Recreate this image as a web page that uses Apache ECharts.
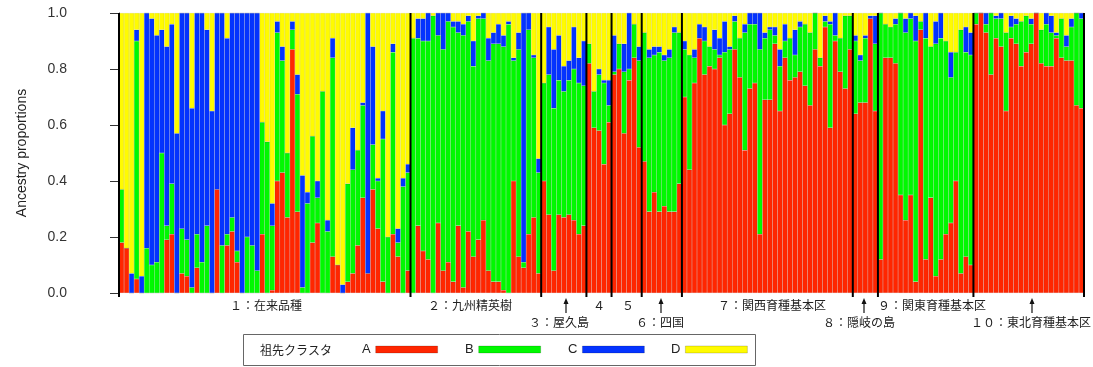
<!DOCTYPE html>
<html>
<head>
<meta charset="utf-8">
<title>Ancestry proportions</title>
<script src="https://cdn.jsdelivr.net/npm/echarts@6/dist/echarts.min.js"></script>
<style>
  html, body { margin: 0; padding: 0; background: #fff; }
  #chart { width: 1093px; height: 367px; }
</style>
</head>
<body>
<div id="chart"></div>
<script>
// 地域グループ（個体数）
const groupSizes = [58, 26, 9, 5, 6, 8, 34, 5, 19, 22]
const groupLabels = ['１：在来品種', '２：九州精英樹', '３：屋久島', '４', '５', '６：四国',
  '７：関西育種基本区', '８：隠岐の島', '９：関東育種基本区', '１０：東北育種基本区']
const clusterNames = ['A', 'B', 'C', 'D']
const clusterColors = ['#ff2600', '#00f900', '#0433ff', '#fffb00']

// 祖先クラスタ A（赤）
const clusterA = [
  .18, .16, 0, .05, 0, 0, 0, 0, 0, .19, .21, 0, .07, .06, 0, .09, 0, 0, 0, .37,
  0, .17, .22, .11, 0, 0, 0, 0, .21, 0, .01, .40, .43, .27, .87, .29, 0, 0, .18, .25,
  0, 0, .13, .10, 0, .04, .07, .17, .34, .07, .37, .23, .04, 0, .21, .13, 0, .08,
  0, .24, .15, .12, 0, .25, .08, .11, .04, .24, .02, .22, .13, .19, .26, .08, .04, .04, .01, 0, .40, .13, .09, .21, .27, .07,
  .40, .28, .08, .28, .27, .28, .26, .21, .24,
  .82, .59, .58, .46, .61,
  .78, .80, .57, .76, .84, .52,
  .47, .29, .36, .29, .31, .29, .29, .39,
  .70, .44, .75, .91, .78, .81, .80, .84, .60, .64, .87, .77, .51, .73, .75, .21, .69, .69, .89, .65,
  .84, .76, .77, .79, .74, .67, .87, .81, .95, .59, .90, .79, .73, .87,
  .64, .68, .68, .98, .65,
  .12, .84, .84, .82, .35, .26, .35, .04, .94, .12, .34, .06, .12, .21, .25, .40, .07, .13, .10,
  .96, 1, .93, .78, .91, .88, .65, .91, .89, .81, .86, .89, 1, .82, .81, .81, .91, .84, .83, .83, .67, .66
]
// 祖先クラスタ B（緑）
const clusterB = [
  .19, 0, 0, .85, 0, .16, .10, .11, .50, .05, .18, 0, .16, .13, .02, .12, .11, .24, 0, 0,
  .17, .04, .05, .04, 0, .20, .17, .08, .40, .54, .23, .53, .40, .23, .07, .42, .02, .32, .38, .09,
  .72, .22, .71, 0, 0, .35, .37, .34, .33, 0, .16, .17, .51, .20, .65, .05, .38, .35,
  .91, .67, .75, .78, .99, .67, .79, .86, .91, .69, .90, .75, .68, .79, .72, .75, .85, .85, .87, .96, .43, .74, .02, .73, .57, .36,
  .35, .50, .58, .48, .45, .48, .54, .54, .50,
  .07, .13, .20, .29, .06,
  .01, .09, .22, .04, .12, .31,
  .46, .55, .49, .57, .52, .55, .64, .54,
  .17, .41, .09, 0, .12, .07, .07, .01, .26, .23, .10, .14, .42, .23, .21, .66, .22, .25, .03, .16,
  .06, .15, .08, .16, .22, .26, .13, .03, .02, .37, .02, .12, .26, .12,
  .26, .15, .23, 0, .24,
  .88, .12, .11, .14, .65, .67, .63, .86, .03, .79, .54, .83, .79, .69, .52, .46, .87, .73, .75,
  .04, 0, .03, .22, .07, .10, .28, .04, .07, .16, .13, .07, 0, .12, .15, .12, .01, .14, .05, .12, .33, .32
]
// 祖先クラスタ C（青）
const clusterC = [
  0, 0, .07, .04, .06, .84, .88, .81, .44, .64, .57, .57, .77, .81, .64, .79, .89, .70, .65, .63,
  .83, .70, .73, .85, 1, .80, .83, .92, 0, 0, .08, .04, .05, 0, .03, .07, .40, .04, 0, .06,
  0, .04, .07, 0, .03, 0, .15, 0, .01, .93, .35, .01, .10, 0, .03, .05, .03, .03,
  0, .07, .08, .10, 0, .08, .13, .03, .02, .04, .04, .02, .09, .01, .02, .08, .04, .07, .04, .01, .01, .06, .89, .06, .01, .05,
  0, .17, .21, .16, .09, .07, .15, .09, .16,
  0, 0, .02, .01, .09,
  .13, 0, .10, .20, 0, .05,
  0, .03, .03, .02, .02, .03, .02, 0,
  .03, 0, .03, .05, .05, 0, .07, .06, .11, .01, .02, 0, .03, .04, .04, .13, .02, .01, .03, .06,
  .06, 0, .09, .02, 0, 0, 0, 0, .02, .01, .08, 0, 0, 0,
  .02, .02, .01, .01, .10,
  0, 0, 0, .02, 0, .05, .02, .09, 0, .09, 0, .08, .09, 0, .09, 0, 0, .09, .08,
  0, 0, .04, 0, .01, .02, 0, .04, .02, 0, 0, .02, 0, 0, .04, .06, .01, 0, .04, .03, 0, .02
]
// 祖先クラスタ D（黄）
const clusterD = [
  .63, .84, .93, .06, .94, 0, .02, .08, .06, .12, .04, .43, 0, 0, .34, 0, 0, .06, .35, 0,
  0, .09, 0, 0, 0, 0, 0, 0, .39, .46, .68, .03, .12, .50, .03, .22, .58, .64, .44, .60,
  .28, .74, .09, .90, .97, .61, .41, .49, .32, 0, .12, .59, .35, .80, .11, .77, .59, .54,
  .09, .02, .02, 0, .01, 0, 0, 0, .03, .03, .04, .01, .10, .01, 0, .09, .07, .04, .08, .03, .16, .07, 0, 0, .15, .52,
  .25, .05, .13, .08, .19, .17, .05, .16, .10,
  .11, .28, .20, .24, .24,
  .08, .11, .11, 0, .04, .12,
  .07, .13, .12, .12, .15, .13, .05, .07,
  .10, .15, .13, .04, .05, .12, .06, .09, .03, .12, .01, .09, .04, 0, 0, 0, .07, .05, .05, .13,
  .04, .09, .06, .03, .04, .07, 0, .16, .01, .03, 0, .09, .01, .01,
  .08, .15, .08, .01, .01,
  0, .04, .05, .02, 0, .02, 0, .01, .03, 0, .12, .03, 0, .10, .14, .14, .06, .05, .07,
  0, 0, 0, 0, .01, 0, .07, .01, .02, .03, .01, .02, 0, .06, 0, .01, .07, .02, .08, .02, 0, 0
]

const clusters = [clusterA, clusterB, clusterC, clusterD]
const cjk = '"Noto Sans CJK JP", sans-serif'
const latin = '"Liberation Sans", Arial, sans-serif'

// 個体ID と グループ境界
const individuals = []
const boundaries = [0]
groupSizes.forEach((n, g) => {
  for (let k = 0; k < n; k++) individuals.push((g + 1) + '-' + (k + 1))
  boundaries.push(boundaries[boundaries.length - 1] + n)
})

// ラベル配置（上段 / 下段 + 矢印）
const labelLayout = [
  { x: 266, y: 305 }, { x: 470, y: 305 }, { x: 559, y: 322, arrow: 566 },
  { x: 599, y: 305 }, { x: 628, y: 305 }, { x: 660, y: 322, arrow: 661 },
  { x: 772, y: 305 }, { x: 859, y: 322, arrow: 864 }, { x: 932, y: 305 },
  { x: 1031, y: 322, arrow: 1032 }
]

const graphic = []
labelLayout.forEach((p, i) => {
  graphic.push({
    type: 'text', x: p.x, y: p.y, silent: true,
    style: { text: groupLabels[i], fontSize: 12, fontFamily: cjk, fill: '#222', align: 'center', verticalAlign: 'middle' }
  })
  if (p.arrow) {
    graphic.push({
      type: 'line', silent: true,
      shape: { x1: p.arrow, y1: 313, x2: p.arrow, y2: 302 },
      style: { stroke: '#111', lineWidth: 1.2 }
    })
    graphic.push({
      type: 'polygon', silent: true,
      shape: { points: [[p.arrow - 2.5, 304], [p.arrow + 2.5, 304], [p.arrow, 298]] },
      style: { fill: '#111' }
    })
  }
})
// 凡例の枠
graphic.push({
  type: 'rect', silent: true,
  shape: { x: 243.5, y: 334.5, width: 512, height: 31 },
  style: { fill: 'none', stroke: '#666', lineWidth: 1 }
})
graphic.push({
  type: 'text', x: 260, y: 350, silent: true,
  style: { text: '祖先クラスタ', fontSize: 12, fontFamily: cjk, fill: '#222', align: 'left', verticalAlign: 'middle' }
})

const legendLeft = [362, 465, 568, 671]

const chart = echarts.init(document.getElementById('chart'))
const option = {
  animation: false,
  grid: { left: 119, right: 9, top: 13, bottom: 74 },
  xAxis: [
    {
      type: 'category', data: individuals,
      axisLine: { show: false }, axisTick: { show: false }, axisLabel: { show: false }, splitLine: { show: false }
    },
    { type: 'value', min: 0, max: individuals.length, show: false }
  ],
  yAxis: {
    type: 'value', min: 0, max: 1, interval: 0.2, offset: 38,
    name: 'Ancestry proportions', nameLocation: 'middle', nameGap: 52,
    nameTextStyle: { fontSize: 14, color: '#222', fontFamily: latin },
    axisLine: { show: true, lineStyle: { color: '#333', width: 1 } },
    axisTick: { show: true, length: 9, lineStyle: { color: '#333' } },
    axisLabel: { margin: 14, fontSize: 14, color: '#333', fontFamily: latin, formatter: v => v.toFixed(1) },
    splitLine: { show: false }
  },
  legend: clusterNames.map((name, i) => ({
    data: [{ name: name, icon: 'rect' }], left: legendLeft[i], top: 343, padding: 0, align: 'right',
    itemWidth: 62, itemHeight: 7, itemGap: 0, selectedMode: false,
    itemStyle: { borderColor: 'rgba(0,0,0,0.35)', borderWidth: 0.5 },
    textStyle: { fontSize: 13, color: '#222', fontFamily: latin }
  })),
  graphic: graphic,
  series: [
    ...clusterNames.map((name, i) => ({
      name: name, type: 'bar', stack: 'q',
      barCategoryGap: '0%',
      data: clusters[i],
      itemStyle: { color: clusterColors[i], borderColor: 'rgba(0,0,0,0.15)', borderWidth: 0.4 }
    })),
    {
      type: 'custom', xAxisIndex: 1, yAxisIndex: 0, silent: true, clip: false, z: 10,
      data: boundaries.map(b => [b, 0]),
      renderItem: (params, api) => {
        const top = api.coord([api.value(0), 1])
        const bot = api.coord([api.value(0), 0])
        return {
          type: 'line',
          shape: { x1: top[0], y1: top[1], x2: bot[0], y2: bot[1] + 4 },
          style: { stroke: '#000', lineWidth: 2 }
        }
      }
    }
  ]
}
chart.setOption(option)
</script>
</body>
</html>
